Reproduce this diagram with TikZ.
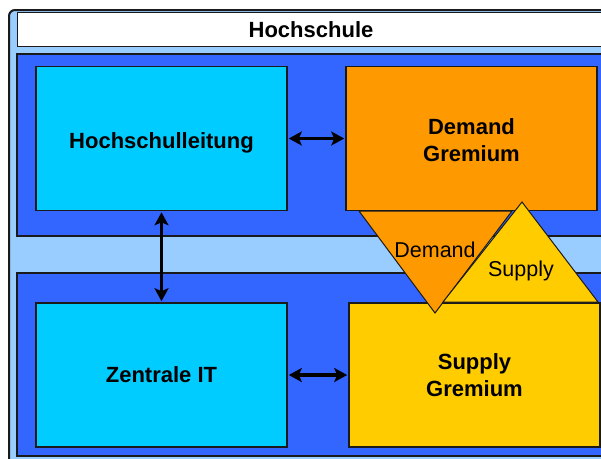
\documentclass[tikz,border=0pt]{standalone}
\usepackage{fontspec}
\setmainfont{Liberation Sans}
\usetikzlibrary{arrows.meta}
\definecolor{lightband}{HTML}{99CCFF}
\definecolor{bandblue}{HTML}{3366FF}
\definecolor{boxcyan}{HTML}{00CCFF}
\definecolor{boxorange}{HTML}{FF9900}
\definecolor{boxyellow}{HTML}{FFCC00}
\definecolor{edge}{HTML}{1A1A1A}
\tikzset{
  box/.style={draw=edge, line width=1.6pt, minimum width=251pt, minimum height=144pt,
    inner sep=0pt, align=center, font=\fontsize{22}{27}\selectfont\bfseries},
  band/.style={draw=edge, line width=1.2pt, fill=bandblue},
  tri/.style={draw=edge, line width=1pt},
  trilabel/.style={font=\fontsize{21.5}{25}\selectfont, inner sep=0pt},
  dbl/.style={{Stealth[length=13pt,width=14pt,inset=3pt]}-{Stealth[length=13pt,width=14pt,inset=3pt]}, line width=3.2pt, black, shorten <=1pt, shorten >=1pt}
}
\begin{document}
\begin{tikzpicture}[x=1pt,y=-1pt]
\useasboundingbox (0,0) rectangle (601,458);
\clip (0,0) rectangle (601,458);
% outer frame
\draw[draw=edge, line width=2pt, fill=lightband, rounded corners=6pt] (9,10) rectangle (640,500);
% title bar
\node[draw=edge, line width=1.4pt, fill=white, minimum width=620pt, minimum height=34pt, anchor=north west, inner sep=0pt] (title) at (17,12) {};
\node[font=\fontsize{22}{25}\selectfont\bfseries] (titletext) at (311,30) {Hochschule};
% bands
\draw[band] (17,54) rectangle (640,236);
\draw[band] (17,273) rectangle (640,456);
% boxes
\node[box, fill=boxcyan] (hl) at (161.5,138.5) {\raisebox{-4pt}[\height][\depth]{Hochschulleitung}};
\node[box, fill=boxorange] (dg) at (471.5,138.5) {\raisebox{-2pt}[\height][\depth]{Demand}\\\raisebox{-2pt}[\height][\depth]{Gremium}};
\node[box, fill=boxcyan] (zit) at (161.5,375) {Zentrale IT};
\node[box, fill=boxyellow] (sg) at (474.5,375) {Supply\\Gremium};
% triangles
\draw[tri, fill=boxorange] (359,211) -- (512,211) -- (435,313) -- cycle;
\draw[tri, fill=boxyellow] (522,202) -- (598,302) -- (443,302) -- cycle;
\node[trilabel] (dlab) at (435,250) {Demand};
\node[trilabel] (slab) at (521,271) {Supply};
% arrows
\draw[dbl] (hl.east) -- (dg.west);
\draw[dbl] (hl.south) -- (zit.north);
\draw[dbl] (zit.east) -- (sg.west);
\end{tikzpicture}
\end{document}
